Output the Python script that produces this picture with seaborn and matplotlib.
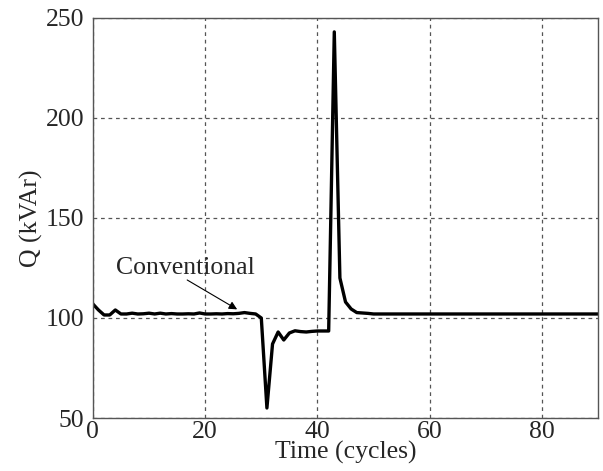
import numpy as np
import pandas as pd
import matplotlib
matplotlib.use("Agg")
import matplotlib.pyplot as plt
import seaborn as sns

# Reactive power, one sample per cycle (0..90)
cycles = list(range(0, 91))
q_start = [107, 104, 101.5, 101.5, 104, 102, 102, 102.4, 102, 102.1,
           102.4, 102, 102.4, 102, 102.2, 102, 102, 102.1, 102, 102.5,
           102, 102, 102.1, 102, 102.2, 102.1, 102.3, 102.7, 102.3, 102]
q_event = [100, 55, 87, 93, 89, 92.5, 93.6, 93.2, 93, 93.3,
           93.5, 93.5, 93.5, 243, 120, 108, 104.5, 102.7, 102.5, 102.3]
q_tail = [102] * 41
q_kvar = q_start + q_event + q_tail

df = pd.DataFrame({"Time": cycles, "Q": q_kvar})

sns.set_style("white")
plt.rcParams['font.family'] = ['Liberation Serif', 'DejaVu Serif']

fig = plt.figure(figsize=(6.03, 4.71), dpi=100)
ax = fig.add_axes([0.154, 0.1125, 0.838, 0.8495])

sns.lineplot(data=df, x="Time", y="Q", ax=ax, color="black", linewidth=2.4)

ax.set_xlim(0, 90)
ax.set_ylim(50, 250)
ax.set_xticks([0, 20, 40, 60, 80])
ax.set_yticks([50, 100, 150, 200, 250])
ax.tick_params(axis="x", labelsize=18.5, length=0, pad=2)
ax.tick_params(axis="y", labelsize=18.5, length=0, pad=6)
ax.grid(True, linestyle=(0, (3, 3)), color="#555555", linewidth=0.9)

for s in ax.spines.values():
    s.set_color("#555555")
    s.set_linewidth(1.0)

ax.set_xlabel("Time (cycles)", fontsize=18.5, labelpad=-1)
ax.set_ylabel("Q (kVAr)", fontsize=18.5, labelpad=2)

# label and arrow
ax.text(16.5, 125, "Conventional", fontsize=18.5, ha="center", va="center")
ax.annotate("", xy=(25.7, 104.3), xytext=(16.8, 119),
            arrowprops=dict(arrowstyle="-|>", color="black", lw=0.8,
                            shrinkA=0, shrinkB=0, mutation_scale=12))

plt.savefig("out.png", dpi=100)
